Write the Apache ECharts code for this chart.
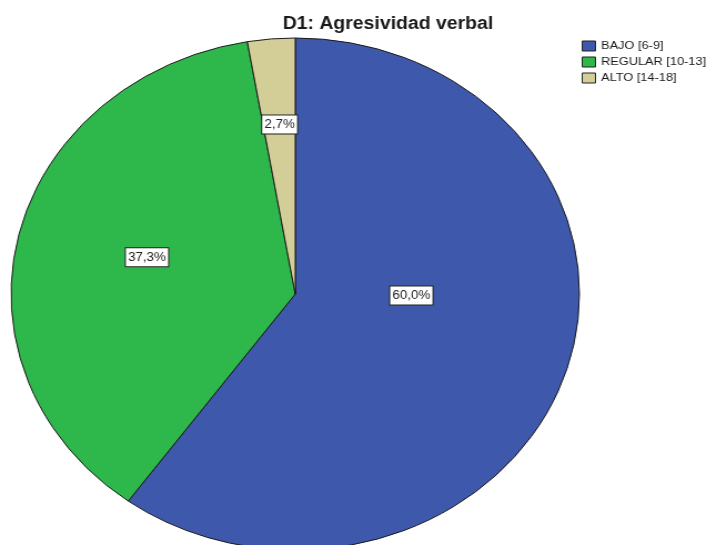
<!DOCTYPE html>
<html>
<head>
<meta charset="utf-8">
<script src="https://cdn.jsdelivr.net/npm/echarts@6/dist/echarts.min.js"></script>
<style>
html,body{margin:0;padding:0;background:#fff;overflow:hidden;width:707px;height:545px;}
#c{position:absolute;left:0;top:0;width:660px;height:545px;transform:scaleX(1.11);transform-origin:0 0;}
</style>
</head>
<body>
<div id="c"></div>
<script>
const titleText = 'D1: Agresividad verbal';
const categories = ['BAJO [6-9]', 'REGULAR [10-13]', 'ALTO [14-18]'];
const percents = [60.0, 37.3, 2.7];
const colors = ['#3e58ab', '#2eb84b', '#d3ce98'];
const labelShift = [[-20, -39], [-6, -7], [-3, -39]];

const FONT = '"Liberation Sans", Arial, sans-serif';
const chart = echarts.init(document.getElementById('c'), null, {renderer: 'canvas'});
chart.setOption({
  animation: false,
  title: {
    text: titleText,
    left: 349.5,
    top: 15,
    padding: 0,
    textAlign: 'center',
    textStyle: {fontFamily: FONT, fontSize: 17.5, fontWeight: 'bold', color: '#1a1a1a'}
  },
  legend: {
    orient: 'vertical',
    left: 524,
    top: 40,
    padding: 0,
    itemWidth: 12,
    itemHeight: 10,
    itemGap: 4,
    icon: 'rect',
    selectedMode: false,
    data: categories,
    itemStyle: {borderColor: '#222', borderWidth: 1},
    textStyle: {fontFamily: FONT, fontSize: 11.5, color: '#1a1a1a', lineHeight: 12}
  },
  series: [{
    type: 'pie',
    center: [266, 294],
    radius: 256,
    startAngle: 90,
    clockwise: true,
    silent: true,
    emphasis: {disabled: true},
    data: categories.map((n, i) => ({name: n, value: percents[i], itemStyle: {color: colors[i]}})),
    itemStyle: {borderColor: '#1a1a1a', borderWidth: 1},
    label: {
      show: true,
      position: 'inside',
      formatter: p => p.value.toFixed(1).replace('.', ',') + '%',
      fontFamily: FONT,
      fontSize: 12,
      lineHeight: 14,
      color: '#222',
      backgroundColor: '#fff',
      borderColor: '#222',
      borderWidth: 1,
      padding: [2, 2]
    },
    labelLine: {show: false},
    labelLayout: p => ({dx: labelShift[p.dataIndex][0], dy: labelShift[p.dataIndex][1]})
  }]
});
</script>
</body>
</html>
